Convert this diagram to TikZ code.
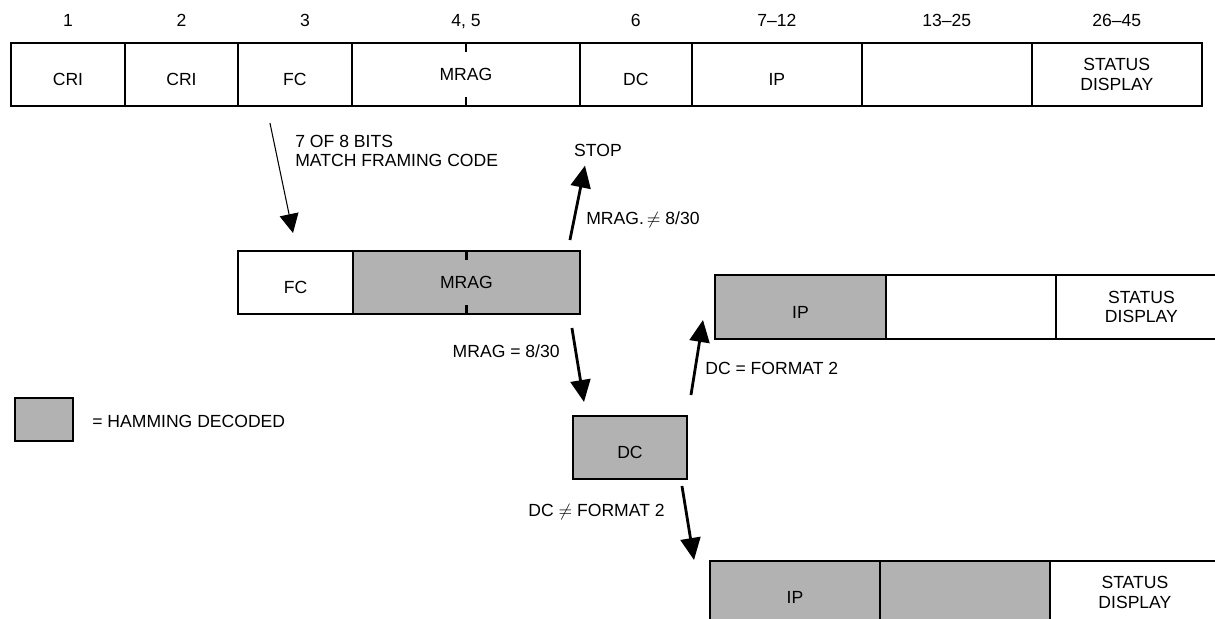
\documentclass[tikz,border=0pt]{standalone}
\usepackage{amsmath,amssymb}
\usepackage{fontspec}
\setmainfont{Liberation Sans}
\usetikzlibrary{arrows.meta,positioning}

\tikzset{
  field/.style={draw, line width=1.3pt, rectangle, inner sep=0pt, outer sep=0pt,
    minimum height=1.26cm, font=\fontsize{10}{11}\selectfont, align=center},
  low/.style={text height=13pt, text depth=0pt},
  ham/.style={field, fill=black!30},
  txt/.style={inner sep=0pt, font=\fontsize{10}{11}\selectfont},
  num/.style={txt, text depth=0pt},
  bigarrow/.style={line width=1.6pt, -{Triangle[length=4.4mm,width=4mm]}},
  thinarrow/.style={line width=0.6pt, -{Triangle[length=3.8mm,width=3.8mm]}},
}

\begin{document}
\begin{tikzpicture}[x=0.02cm, y=-0.02cm]
  \useasboundingbox (0,0) rectangle (1215,619);
  \clip (0,0) rectangle (1215,619);
  % Paquet complet
  \node[field, low, minimum width=2.28cm, anchor=north west] (cri1) at (11,43) {CRI};
  \node[field, low, minimum width=2.26cm, right=0pt of cri1] (cri2) {CRI};
  \node[field, low, minimum width=2.28cm, right=0pt of cri2] (fc1) {FC};
  \node[field, minimum width=4.56cm, right=0pt of fc1] (mrag1) {MRAG};
  \node[field, low, minimum width=2.24cm, right=0pt of mrag1] (dc1) {DC};
  \node[field, low, minimum width=3.4cm, right=0pt of dc1] (ip1) {IP};
  \node[field, minimum width=3.4cm, right=0pt of ip1] (sp1) {};
  \node[field, minimum width=3.4cm, right=0pt of sp1] (st1) {STATUS\\DISPLAY};
  \draw[line width=1.3pt] (mrag1.north) -- ++(0,9) (mrag1.south) -- ++(0,-9);
  % Numeros d'octets
  \node[num, above=9pt of cri1] (n1) {1};
  \node[num, above=9pt of cri2] (n2) {2};
  \node[num, above=9pt of fc1, xshift=0.2cm] (n3) {3};
  \node[num, above=9pt of mrag1] (n45) {4, 5};
  \node[num, above=9pt of dc1] (n6) {6};
  \node[num, above=9pt of ip1] (n7) {7--12};
  \node[num, above=9pt of sp1] (n13) {13--25};
  \node[num, above=9pt of st1] (n26) {26--45};
  % Synchronisation
  \node[field, low, minimum width=2.3cm, anchor=north west] (fc2) at (238,251) {FC};
  \node[ham, minimum width=4.54cm, right=0pt of fc2] (mrag2) {MRAG};
  \draw[line width=1.3pt] (mrag2.north) -- ++(0,9) (mrag2.south) -- ++(0,-9);
  \node[txt, anchor=west, align=left] (match) at (295,151) {7 OF 8 BITS\\MATCH FRAMING CODE};
  \draw[thinarrow] ([shift={(32,17)}]fc1.south west) -- ([shift={(55,-18)}]fc2.north west);
  % Branche MRAG
  \node[txt] (stop) at (598,150) {STOP};
  \node[txt, anchor=west] (neq) at (586,220) {MRAG.\,$\neq$ 8/30};
  \draw[bigarrow] ([shift={(-10,-11)}]mrag2.north east) -- ([shift={(-13,9)}]stop.south);
  \node[ham, low, minimum width=2.28cm, anchor=north west] (dc2) at (573,416) {DC};
  \node[txt, anchor=east] (eq) at (560,351) {MRAG = 8/30};
  \draw[bigarrow] ([shift={(-8,14)}]mrag2.south east) -- ([shift={(11,-14)}]dc2.north west);
  % Format 2
  \node[ham, low, minimum width=3.42cm, minimum height=1.28cm, anchor=north west] (ip3) at (715,275) {IP};
  \node[field, minimum width=3.4cm, minimum height=1.28cm, right=0pt of ip3] (sp3) {};
  \node[field, minimum width=3.42cm, minimum height=1.28cm, right=0pt of sp3] (st3) {STATUS\\DISPLAY};
  \node[txt, anchor=west] (fmt) at (705,368) {DC = FORMAT 2};
  \draw[bigarrow] ([shift={(4,-21)}]dc2.north east) -- ([shift={(-12,-19)}]ip3.south west);
  % Autre format
  \node[ham, low, minimum width=3.4cm, anchor=north west] (ip4) at (710,561) {IP};
  \node[ham, minimum width=3.4cm, right=0pt of ip4] (sp4) {};
  \node[field, minimum width=3.4cm, right=0pt of sp4] (st4) {STATUS\\DISPLAY};
  \node[txt, anchor=east] (nfmt) at (665,512) {DC $\neq$ FORMAT 2};
  \draw[bigarrow] ([shift={(-5,7)}]dc2.south east) -- ([shift={(-16,-1)}]ip4.north west);
  % Legende
  \node[ham, minimum width=1.16cm, minimum height=0.86cm, anchor=north west] (key) at (15,398) {};
  \node[txt, anchor=west] (keytxt) at (92,421) {= HAMMING DECODED};
\end{tikzpicture}
\end{document}
